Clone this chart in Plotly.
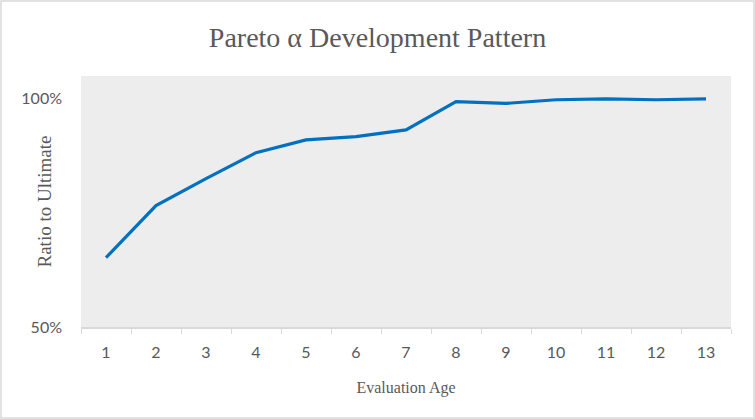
import plotly.graph_objects as go

ages = ["1", "2", "3", "4", "5", "6", "7", "8", "9", "10", "11", "12", "13"]
ratio = [0.652, 0.766, 0.825, 0.882, 0.910, 0.917, 0.932, 0.994, 0.990, 0.998, 1.000, 0.998, 1.000]
y_ticks = [0.5, 1.0]

W, H = 755, 419
L, R, T, B = 81, 24, 76, 92
pw, ph = W - L - R, H - T - B

fig = go.Figure()
fig.add_trace(go.Scatter(
    x=ages, y=ratio, mode="lines",
    line=dict(color="#0070C0", width=3.2),
    hoverinfo="skip",
))

fig.update_layout(
    width=W, height=H,
    margin=dict(l=L, r=R, t=T, b=B, autoexpand=False),
    paper_bgcolor="white",
    plot_bgcolor="#ededed",
    showlegend=False,
    title=dict(
        text="Pareto α Development Pattern",
        x=0.5, xanchor="center", y=1 - 37 / H, yanchor="middle",
        font=dict(family="Liberation Serif", size=28, color="#595959"),
    ),
    shapes=[dict(type="rect", xref="paper", yref="paper",
                 x0=(-L + 1) / pw, x1=1 + (R - 1) / pw,
                 y0=(-B + 1) / ph, y1=1 + (T - 1) / ph,
                 line=dict(color="#d9d9d9", width=1.5), fillcolor="rgba(0,0,0,0)", layer="below")],
    annotations=[dict(text="Ratio to Ultimate", textangle=-90,
                      xref="paper", yref="paper", x=(44 - L) / pw, y=0.5,
                      xanchor="center", yanchor="middle", showarrow=False,
                      font=dict(family="Liberation Serif", size=19, color="#595959"))],
)

fig.update_xaxes(
    type="category",
    range=[-0.5, 12.5],
    tickson="boundaries",
    ticks="outside", ticklen=5, tickcolor="#d9d9d9",
    showline=True, linecolor="#d9d9d9", linewidth=1.5,
    showgrid=False, zeroline=False,
    automargin=False,
    tickfont=dict(family="Lato", size=16, color="#595959"),
    ticklabelstandoff=10,
    title=dict(text="Evaluation Age", standoff=22,
               font=dict(family="Liberation Serif", size=16, color="#595959")),
)
fig.update_yaxes(
    range=[0.5, 1.05],
    tickvals=y_ticks, tickformat=".0%",
    showgrid=False, zeroline=False, showline=False, ticks="",
    automargin=False,
    tickfont=dict(family="Lato", size=16, color="#595959"),
    ticklabelstandoff=18,
)

fig.write_html("out.html", config={"displayModeBar": False},
               post_script="document.body.style.margin='0';")
